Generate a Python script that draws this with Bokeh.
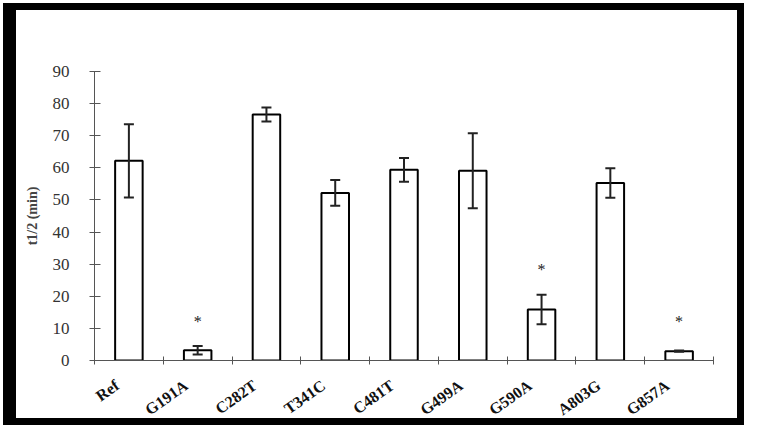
from bokeh.plotting import figure
from bokeh.models import ColumnDataSource, Whisker, TeeHead, FixedTicker, Range1d
from bokeh.core.properties import value
from bokeh.embed import file_html
from bokeh.resources import INLINE

categories = ["Ref", "G191A", "C282T", "T341C", "C481T", "G499A", "G590A", "A803G", "G857A"]
half_life = [62.2, 3.2, 76.6, 52.2, 59.4, 59.1, 15.9, 55.3, 2.9]
errors = [11.4, 1.3, 2.2, 4.0, 3.7, 11.7, 4.6, 4.6, 0.2]
star_categories = ["G191A", "G590A", "G857A"]
star_y = [12.2, 28.4, 12.2]
y_ticks = [0, 10, 20, 30, 40, 50, 60, 70, 80, 90]

xpos = [i + 0.5 for i in range(len(categories))]
label_pos = [round(i + 0.33, 2) for i in range(len(categories))]
src = ColumnDataSource(dict(
    x=xpos, top=half_life,
    upper=[v + e for v, e in zip(half_life, errors)],
    lower=[v - e for v, e in zip(half_life, errors)],
))
star_src = ColumnDataSource(dict(
    x=[categories.index(c) + 0.5 for c in star_categories], y=star_y,
    t=["*"] * len(star_categories),
))

p = figure(width=747, height=428, output_backend="svg", toolbar_location=None,
           x_range=Range1d(0, len(categories)), y_range=Range1d(0, 90),
           min_border_left=94, min_border_right=34, min_border_top=71, min_border_bottom=66,
           styles={"background-color": "white",
                   "box-shadow": "inset 0 0 0 3px white, inset 0 0 0 10px black, inset 16px 0 0 0 black"})
p.outline_line_color = None
p.border_fill_color = None
p.background_fill_color = None
p.xgrid.visible = False
p.ygrid.visible = False

p.vbar(x="x", top="top", width=0.4, bottom=0, source=src,
       fill_color="white", line_color="black", line_width=2)
w = Whisker(source=src, base="x", upper="upper", lower="lower",
            line_color="#222222", line_width=2, level="overlay",
            upper_head=TeeHead(size=10, line_width=2, line_color="#222222"),
            lower_head=TeeHead(size=10, line_width=2, line_color="#222222"))
p.add_layout(w)

p.text(x="x", y="y", text="t", source=star_src, text_align="center",
       text_baseline="middle", text_font=value("Liberation Serif"),
       text_font_size="16px", text_color="#222222")

# y axis
ya = p.yaxis[0]
ya.ticker = FixedTicker(ticks=y_ticks)
ya.axis_label = "t1/2 (min)"
ya.axis_label_text_font = "Liberation Serif"
ya.axis_label_text_font_style = "bold"
ya.axis_label_text_font_size = "14px"
ya.axis_label_standoff = 10
ya.major_label_text_font = "Liberation Serif"
ya.major_label_text_font_size = "17px"
ya.major_label_text_color = "#333333"
ya.major_label_standoff = 20
ya.major_tick_in = 6
ya.major_tick_out = 5
ya.minor_tick_line_color = None
ya.axis_line_color = "#555555"
ya.major_tick_line_color = "#555555"

# x axis: labels slightly left of the bar centre, ticks on category boundaries
xa = p.xaxis[0]
xa.ticker = FixedTicker(ticks=label_pos, minor_ticks=list(range(len(categories) + 1)))
xa.major_label_overrides = {x: c for x, c in zip(label_pos, categories)}
xa.major_label_orientation = 0.62
xa.major_label_text_font = "Liberation Serif"
xa.major_label_text_font_style = "bold"
xa.major_label_text_font_size = "16px"
xa.major_label_text_color = "#111111"
xa.major_label_standoff = 19
xa.major_tick_in = 0
xa.major_tick_out = 0
xa.minor_tick_in = 4
xa.minor_tick_out = 4
xa.minor_tick_line_color = "#555555"
xa.axis_line_color = "#555555"

open("out.html", "w").write(file_html(p, INLINE))
